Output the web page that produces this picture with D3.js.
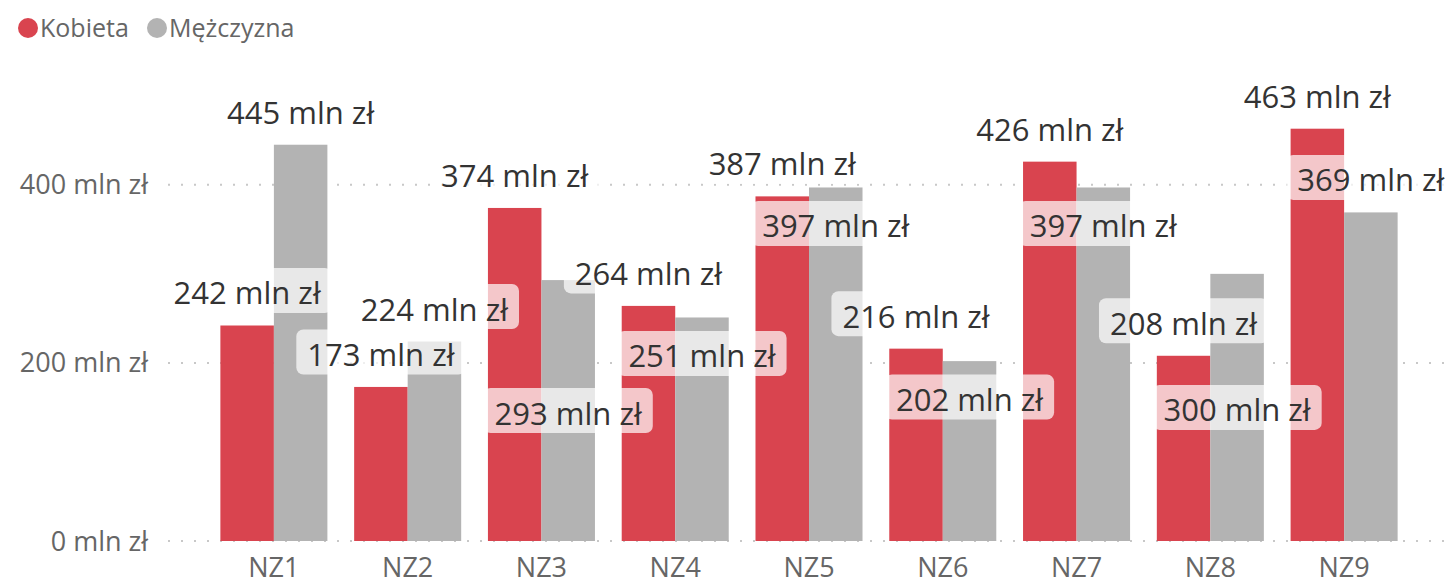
<!DOCTYPE html>
<html>
<head>
<meta charset="utf-8">
<script src="https://cdn.jsdelivr.net/npm/d3@7"></script>
<style>
  html, body { margin: 0; padding: 0; background: #fff; }
  svg { display: block; font-family: "Segoe UI", "Open Sans", sans-serif; }
</style>
</head>
<body>
<svg id="chart" width="1451" height="581"></svg>
<script>
// ---- data ----
const categories = ["NZ1", "NZ2", "NZ3", "NZ4", "NZ5", "NZ6", "NZ7", "NZ8", "NZ9"];
const seriesNames = ["Kobieta", "Mężczyzna"];
const kobieta = [242, 173, 374, 264, 387, 216, 426, 208, 463];
const mezczyzna = [445, 224, 293, 251, 397, 202, 397, 300, 369];
const yTicks = [0, 200, 400];
// label placement chosen by the original chart's layout
const kobietaLabelPos = ["outside", "outside", "outside", "outside", "outside", "outside", "outside", "outside", "outside"];
const mezczyznaLabelPos = ["outside", "outside", "insideCenter", "insideEnd", "insideEnd", "insideEnd", "insideEnd", "insideCenter", "outside"];

const colors = ["#D9444F", "#B3B3B3"];
const fmt = v => v + " mln zł";

const W = 1451, H = 581;
const svg = d3.select("#chart");

const x0 = d3.scaleBand().domain(categories).range([207, 1411]).paddingInner(0.2).paddingOuter(0.1);
const x1 = d3.scaleBand().domain(seriesNames).range([0, x0.bandwidth()]);
const y = d3.scaleLinear().domain([0, 500]).range([541, 541 - 500 * 0.8905]);

// gridlines
svg.append("g").selectAll("line").data(yTicks).join("line")
  .attr("x1", 168).attr("x2", 1447)
  .attr("y1", d => y(d)).attr("y2", d => y(d))
  .attr("stroke", "#c8c8c8").attr("stroke-width", 2)
  .attr("stroke-dasharray", "2,11");

// y axis labels
svg.append("g").selectAll("text").data(yTicks).join("text")
  .attr("x", 148).attr("y", d => y(d) + 9.5)
  .attr("text-anchor", "end")
  .attr("fill", "#666").attr("font-size", 27)
  .text(fmt);

// category labels
svg.append("g").selectAll("text").data(categories).join("text")
  .attr("x", d => x0(d) + x0.bandwidth() / 2).attr("y", 577)
  .attr("text-anchor", "middle")
  .attr("fill", "#666").attr("font-size", 27)
  .text(d => d);

// bars
const rows = [];
categories.forEach((c, i) => {
  rows.push({ cat: c, s: seriesNames[0], v: kobieta[i], pos: kobietaLabelPos[i], color: colors[0] });
  rows.push({ cat: c, s: seriesNames[1], v: mezczyzna[i], pos: mezczyznaLabelPos[i], color: colors[1] });
});

svg.append("g").selectAll("rect").data(rows).join("rect")
  .attr("x", d => x0(d.cat) + x1(d.s))
  .attr("width", x1.bandwidth())
  .attr("y", d => y(d.v))
  .attr("height", d => y(0) - y(d.v))
  .attr("fill", d => d.color);

// data labels with translucent boxes
const lblFont = 31;
const boxH = 45;
function boxCenter(d) {
  if (d.pos === "outside") return y(d.v) - 35;
  if (d.pos === "insideEnd") return y(d.v) + 36;
  return y(d.v / 2);
}
const lg = svg.append("g");
rows.forEach(d => {
  const cx = x0(d.cat) + x1(d.s) + x1.bandwidth() / 2;
  const cy = boxCenter(d);
  const g = lg.append("g");
  const rect = g.append("rect");
  const t = g.append("text")
    .attr("x", cx).attr("y", cy + 14)
    .attr("text-anchor", "middle")
    .attr("fill", "#333").attr("font-size", lblFont)
    .text(fmt(d.v));
  const w = t.node().getComputedTextLength() + 22;
  rect.attr("x", cx - w / 2).attr("y", cy - boxH / 2)
    .attr("width", w).attr("height", boxH)
    .attr("rx", 7).attr("fill", "#fff").attr("fill-opacity", 0.7);
});

// legend
const leg = svg.append("g");
const legX = [28, 157];
seriesNames.forEach((s, i) => {
  leg.append("circle").attr("cx", legX[i]).attr("cy", 28).attr("r", 10).attr("fill", colors[i]);
  leg.append("text").attr("x", legX[i] + 12).attr("y", 37)
    .attr("fill", "#666").attr("font-size", 25).text(s);
});
</script>
</body>
</html>
